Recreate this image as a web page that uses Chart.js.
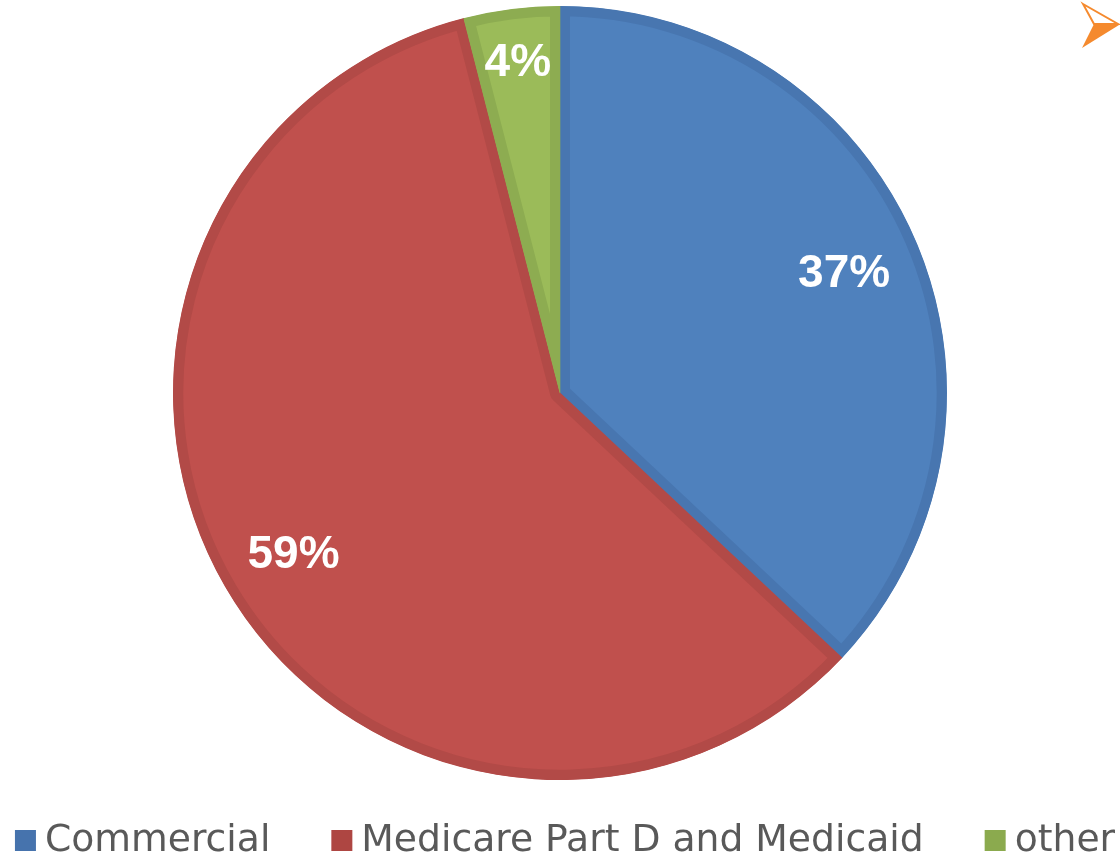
<!DOCTYPE html>
<html>
<head>
<meta charset="utf-8">
<script src="https://cdn.jsdelivr.net/npm/chart.js@4"></script>
<style>
  html, body { margin: 0; padding: 0; background: #ffffff; }
  #contenedor { position: relative; width: 1120px; height: 856px; }
</style>
</head>
<body>
<div id="contenedor">
  <canvas id="pagadoresChart"></canvas>
</div>
<script>
const categorias = ["Commercial", "Medicare Part D and Medicaid", "other"];
const porcentajes = [37, 59, 4];
const coloresRelleno = ["#4F81BD", "#C0504D", "#9BBB59"];
const coloresBorde = ["#4876B0", "#B24A47", "#8DAC51"];
const coloresLeyenda = ["#4673AD", "#AE4642", "#8BAA4E"];

// etiquetas blancas dentro de cada porción
const etiquetasPorcion = {
  id: "etiquetasPorcion",
  afterDatasetsDraw(chart) {
    const ctx = chart.ctx;
    const meta = chart.getDatasetMeta(0);
    const total = porcentajes.reduce((a, b) => a + b, 0);

    ctx.save();
    ctx.fillStyle = "#FFFFFF";
    ctx.font = "bold 46px 'Liberation Sans', Arial, sans-serif";
    ctx.textAlign = "center";
    ctx.textBaseline = "alphabetic";

    meta.data.forEach((arc, i) => {
      const { x, y, startAngle, endAngle, outerRadius } = arc.getProps(
        ["x", "y", "startAngle", "endAngle", "outerRadius"], true
      );
      const medio = (startAngle + endAngle) / 2;
      const factor = porcentajes[i] / total < 0.1 ? 0.87 : 0.8;
      const px = x + Math.cos(medio) * outerRadius * factor;
      const py = y + Math.sin(medio) * outerRadius * factor;
      ctx.fillText(`${porcentajes[i]}%`, px, py + 17);
    });

    ctx.restore();
  }
};

// leyenda dibujada a mano para controlar el espaciado
const leyendaAbajo = {
  id: "leyendaAbajo",
  afterDraw(chart) {
    const ctx = chart.ctx;
    const caja = 21;
    const separacionTexto = 9;
    const separacionItems = 61;

    ctx.save();
    ctx.font = "37.7px 'DejaVu Sans', sans-serif";
    ctx.textBaseline = "alphabetic";
    ctx.textAlign = "left";

    const anchos = categorias.map(c => caja + separacionTexto + ctx.measureText(c).width);
    const total = anchos.reduce((a, b) => a + b, 0) + separacionItems * (categorias.length - 1);
    let x = (chart.width - total) / 2 + 5;

    categorias.forEach((c, i) => {
      ctx.fillStyle = coloresLeyenda[i];
      ctx.fillRect(x, 830, caja, caja);
      ctx.fillStyle = "#595959";
      ctx.fillText(c, x + caja + separacionTexto, 851);
      x += anchos[i] + separacionItems;
    });

    // flecha naranja de la esquina
    ctx.lineJoin = "miter";
    ctx.fillStyle = "#F58A2E";
    ctx.strokeStyle = "#F58A2E";
    ctx.lineWidth = 2;
    ctx.beginPath();
    ctx.moveTo(1083, 4);
    ctx.lineTo(1118, 24);
    ctx.lineTo(1094, 24);
    ctx.closePath();
    ctx.stroke();
    ctx.beginPath();
    ctx.moveTo(1094, 24);
    ctx.lineTo(1119, 25);
    ctx.lineTo(1082, 48);
    ctx.closePath();
    ctx.fill();

    ctx.restore();
  }
};

function crearGrafico() {
  const canvas = document.getElementById("pagadoresChart");

  new Chart(canvas, {
    type: "pie",
    data: {
      labels: categorias,
      datasets: [{
        data: porcentajes,
        backgroundColor: coloresRelleno,
        borderColor: coloresBorde,
        borderWidth: 10,
        borderAlign: "inner"
      }]
    },
    options: {
      responsive: true,
      maintainAspectRatio: false,
      animation: false,
      layout: {
        padding: { top: 6, bottom: 76, left: 0, right: 0 }
      },
      plugins: {
        legend: { display: false },
        tooltip: { enabled: false }
      }
    },
    plugins: [etiquetasPorcion, leyendaAbajo]
  });
}

document.addEventListener("DOMContentLoaded", crearGrafico);
</script>
</body>
</html>
